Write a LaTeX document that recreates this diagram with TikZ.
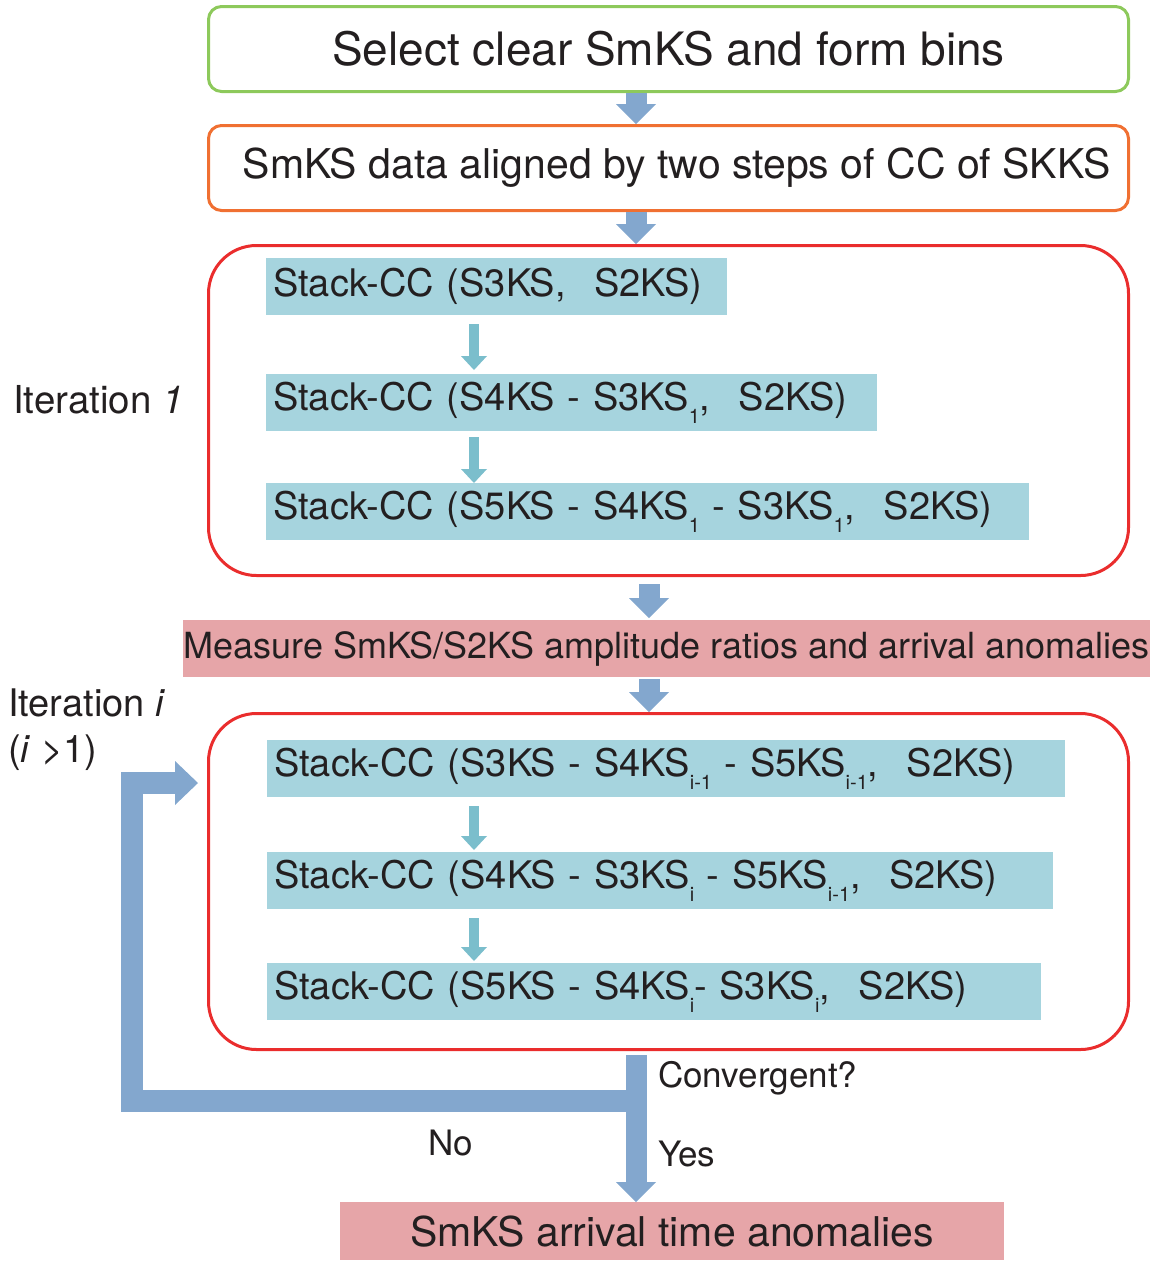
\documentclass[tikz,border=0pt]{standalone}
\usepackage{fontspec}
\setmainfont{TeX Gyre Heros}
\usetikzlibrary{arrows.meta,calc}
\definecolor{txt}{RGB}{35,31,32}
\definecolor{greenc}{RGB}{141,201,91}
\definecolor{orangec}{RGB}{240,112,50}
\definecolor{redc}{RGB}{234,45,45}
\definecolor{arrowc}{RGB}{131,167,206}
\definecolor{cyanc}{RGB}{166,212,222}
\definecolor{smallc}{RGB}{123,190,204}
\definecolor{pinkc}{RGB}{230,165,168}
\newcommand{\sbs}[1]{\raisebox{-0.36em}{\fontsize{20}{20}\selectfont #1}}
\newcommand{\fwc}{,\hspace{0.75em}}
\begin{document}
\begin{tikzpicture}[x=1pt,y=-1pt,
  topbox/.style={draw=#1, line width=3pt, rounded corners=13pt, minimum width=920pt, minimum height=85pt, anchor=north west, text=txt, inner sep=0pt},
  redbox/.style={draw=redc, line width=3pt, rounded corners=48pt, minimum width=920pt, anchor=north west, inner sep=0pt},
  cyanbox/.style={fill=cyanc, anchor=north west, minimum height=57pt, inner xsep=7pt, inner ysep=0pt, text width=#1, align=left, text=txt, font=\fontsize{38}{40}\selectfont},
  pinkbox/.style={fill=pinkc, anchor=north west, inner sep=0pt, text=txt},
  bigarrow/.style={draw=arrowc, line width=21pt, -{Triangle[width=40pt,length=20pt,line width=0pt]}},
  smallarrow/.style={draw=smallc, line width=10pt, -{Triangle[width=26pt,length=14pt,line width=0pt]}},
  fbarrow/.style={draw=arrowc, line width=22pt, line join=miter, -{Triangle[width=44pt,length=23pt,line width=0pt]}},
  lbl/.style={text=txt, inner sep=0pt, font=\fontsize{35}{40}\selectfont}
]
\useasboundingbox (0,0) rectangle (1156,1262);

% top boxes
\node[topbox=greenc, font=\fontsize{46}{50}\selectfont] (sel) at (207,5) {Select clear SmKS and form bins};
\node[topbox=orangec, font=\fontsize{41}{46}\selectfont] (ali) at (207,124) {\hspace{16pt}SmKS data aligned by two steps of CC of SKKS};

% iteration 1
\node[redbox, minimum height=330pt] (it1) at (207,244) {};
\node[cyanbox=447pt] (a1) at (266,258) {Stack-CC (S3KS\fwc S2KS)};
\node[cyanbox=597pt] (a2) at (266,374) {Stack-CC (S4KS - S3KS\sbs{1}\fwc S2KS)};
\node[cyanbox=749pt] (a3) at (266,483) {Stack-CC (S5KS - S4KS\sbs{1} - S3KS\sbs{1}\fwc S2KS)};
\node[text=txt, anchor=west, inner sep=0pt, font=\fontsize{38.5}{40}\selectfont] (lab1) at (13,400) {Iteration \textit{1}};

% measure
\node[pinkbox, minimum width=967pt, minimum height=57pt, font=\fontsize{36}{40}\selectfont] (mea) at (183,620) {Measure SmKS/S2KS amplitude ratios and arrival anomalies};

% iteration i
\node[redbox, minimum height=336pt] (it2) at (207,712) {};
\node[cyanbox=784pt] (b1) at (267,740) {Stack-CC (S3KS - S4KS\sbs{i-1} - S5KS\sbs{i-1}\fwc S2KS)};
\node[cyanbox=772pt] (b2) at (267,852) {Stack-CC (S4KS - S3KS\sbs{i} - S5KS\sbs{i-1}\fwc S2KS)};
\node[cyanbox=760pt] (b3) at (267,963) {Stack-CC (S5KS - S4KS\sbs{i}- S3KS\sbs{i}\fwc S2KS)};
\node[text=txt, anchor=west, inner sep=0pt, align=left, font=\fontsize{38}{46}\selectfont] (lab2) at (8,730) {Iteration \textit{i}\\(\textit{i} >1)};

% final
\node[pinkbox, minimum width=664pt, minimum height=58pt, font=\fontsize{41}{44}\selectfont] (fin) at (340,1202) {SmKS arrival time anomalies};

% coordinates for arrow columns
\coordinate (ax) at (636,0);
\coordinate (bx) at (649,0);
\coordinate (sx) at (474,0);
\coordinate (fbx) at (132,783);
\coordinate (fbs) at (636,1101);

% big arrows
\draw[bigarrow] (sel.south -| ax) -- (ali.north -| ax);
\draw[bigarrow] (ali.south -| ax) -- (it1.north -| ax);
\draw[bigarrow, shorten <=7pt, shorten >=2pt] (it1.south -| bx) -- (mea.north -| bx);
\draw[bigarrow, shorten <=2pt] (mea.south -| bx) -- (it2.north -| bx);

% small arrows
\draw[smallarrow, shorten <=9pt, shorten >=4pt] (a1.south -| sx) -- (a2.north -| sx);
\draw[smallarrow, shorten <=6pt, shorten >=0pt] (a2.south -| sx) -- (a3.north -| sx);
\draw[smallarrow, shorten <=9pt, shorten >=2pt] (b1.south -| sx) -- (b2.north -| sx);
\draw[smallarrow, shorten <=9pt, shorten >=2pt] (b2.south -| sx) -- (b3.north -| sx);

% convergence
\draw[bigarrow, shorten <=4pt] (it2.south -| ax) -- (fin.north -| ax);
\draw[fbarrow, shorten >=9pt] (fbs) -| (fbx) -- (fbx -| it2.west);

\node[lbl, anchor=west] (conv) at (658,1078) {Convergent?};
\node[lbl, anchor=west] (yes) at (658,1154) {Yes};
\node[lbl] (no) at (451,1143) {No};
\end{tikzpicture}
\end{document}
